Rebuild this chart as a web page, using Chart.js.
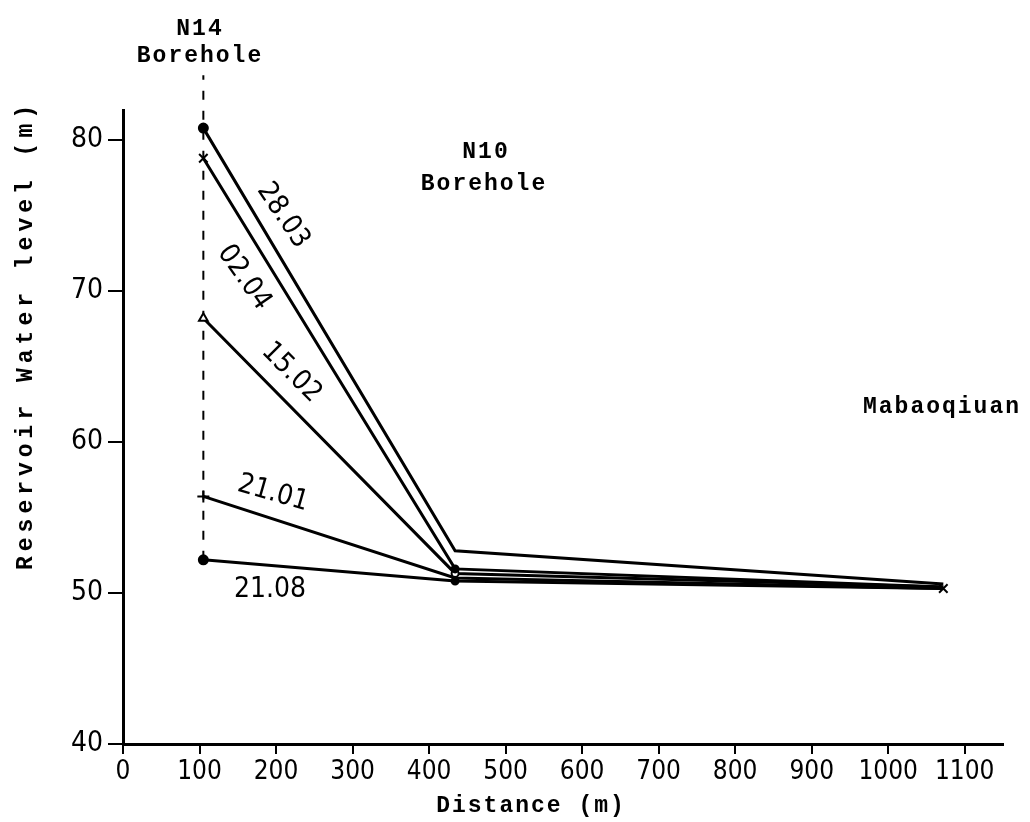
<!DOCTYPE html>
<html>
<head>
<meta charset="utf-8">
<script src="https://cdn.jsdelivr.net/npm/chart.js@4.4.1/dist/chart.umd.min.js"></script>
<style>
  html, body { margin: 0; padding: 0; background: #fff; }
  #c { display: block; }
</style>
</head>
<body>
<canvas id="c" width="1030" height="822"></canvas>
<script>
// ---- data ----
const sites = ['N14 Borehole', 'N10 Borehole', 'Mabaoqiuan'];
const distances = [105, 434, 1072];
const dates = ['28.03', '02.04', '15.02', '21.01', '21.08'];
const levelN14 = [80.8, 78.8, 68.2, 56.4, 52.2];
const levelN10 = [52.8, 51.6, 51.3, 51.0, 50.8];
const levelMab = [50.6, 50.4, 50.4, 50.3, 50.3];
const n14Markers = ['circle', 'crossRot', 'triangle', 'cross', 'circle'];
const yTicks = [40, 50, 60, 70, 80];
const xTicks = [0, 100, 200, 300, 400, 500, 600, 700, 800, 900, 1000, 1100];
// label anchor positions (data units) and angles for date labels
const labelX = [209, 158, 220, 196, 192];
const labelY = [75.0, 70.9, 64.6, 56.6, 50.2];
const labelAngle = [56, 55, 45, 16, 0];
const boreholeTop = 84.3;

const mono = '"Liberation Mono", "DejaVu Sans Mono", monospace';
const narrow = '"Liberation Sans Narrow", "DejaVu Sans Condensed", "Liberation Sans", sans-serif';

const datasets = dates.map((d, i) => ({
  label: d,
  data: [
    { x: distances[0], y: levelN14[i] },
    { x: distances[1], y: levelN10[i] },
    { x: distances[2], y: levelMab[i] }
  ],
  borderColor: '#000',
  backgroundColor: i === 2 ? '#fff' : '#000',
  pointBorderColor: '#000',
  borderWidth: 3,
  pointStyle: [n14Markers[i], i === 3 ? 'crossRot' : 'circle', 'crossRot'],
  pointRadius: [(i === 1 || i === 3) ? 6 : (i === 2 ? 5 : 4.5), i === 0 ? 0 : (i === 3 ? 5 : 3.5), i === 3 ? 6 : 0],
  pointBorderWidth: 2,
  tension: 0,
  clip: false
}));

datasets.push({
  label: 'N14 borehole',
  data: [{ x: distances[0], y: levelN14[4] }, { x: distances[0], y: boreholeTop }],
  borderColor: '#000',
  borderWidth: 2,
  borderDash: [9, 11],
  pointRadius: 0,
  clip: false
});

const textPlugin = {
  id: 'texts',
  afterDatasetsDraw(chart) {
    const ctx = chart.ctx;
    const xs = chart.scales.x, ys = chart.scales.y;
    ctx.save();
    ctx.fillStyle = '#000';
    ctx.textAlign = 'center';
    ctx.textBaseline = 'middle';
    // date labels
    ctx.font = '28px ' + narrow;
    dates.forEach((d, i) => {
      ctx.save();
      ctx.translate(xs.getPixelForValue(labelX[i]), ys.getPixelForValue(labelY[i]));
      ctx.rotate(labelAngle[i] * Math.PI / 180);
      ctx.fillText(d, 0, 0);
      ctx.restore();
    });
    // site labels
    ctx.font = 'bold 23px ' + mono;
    ctx.letterSpacing = '2px';
    ctx.fillText('N14', 200, 29);
    ctx.fillText('Borehole', 200, 56);
    ctx.fillText('N10', 486, 152);
    ctx.fillText('Borehole', 484, 184);
    ctx.fillText('Mabaoqiuan', 942, 407);
    // axis titles
    ctx.fillText('Distance (m)', 531, 806);
    ctx.save();
    ctx.translate(26, 335);
    ctx.rotate(-Math.PI / 2);
    ctx.letterSpacing = '5px';
    ctx.fillText('Reservoir Water level (m)', 0, 0);
    ctx.restore();
    ctx.restore();
  }
};

new Chart(document.getElementById('c'), {
  type: 'line',
  data: { datasets },
  options: {
    responsive: false,
    animation: false,
    devicePixelRatio: 1,
    layout: { padding: { top: 110, right: 27, left: 0, bottom: 0 } },
    plugins: { legend: { display: false }, tooltip: { enabled: false } },
    scales: {
      x: {
        type: 'linear',
        min: 0, max: 1150,
        afterFit(s) { s.height = 78; },
        afterBuildTicks(s) { s.ticks = xTicks.map(v => ({ value: v })); },
        border: { display: true, color: '#000', width: 3 },
        grid: { drawOnChartArea: false, drawTicks: true, tickLength: 10, color: '#000', lineWidth: 2 },
        ticks: { color: '#000', padding: 3, maxRotation: 0, autoSkip: false,
                 callback: v => String(v),
                 font: { family: narrow, size: 26 } }
      },
      y: {
        type: 'linear',
        min: 40, max: 82,
        afterFit(s) { s.width = 123; },
        afterBuildTicks(s) { s.ticks = yTicks.map(v => ({ value: v })); },
        border: { display: true, color: '#000', width: 3 },
        grid: { drawOnChartArea: false, drawTicks: true, tickLength: 15, color: '#000', lineWidth: 2 },
        ticks: { color: '#000', padding: 5, autoSkip: false,
                 callback: v => String(v),
                 font: { family: narrow, size: 28 } }
      }
    }
  },
  plugins: [textPlugin]
});
</script>
</body>
</html>
